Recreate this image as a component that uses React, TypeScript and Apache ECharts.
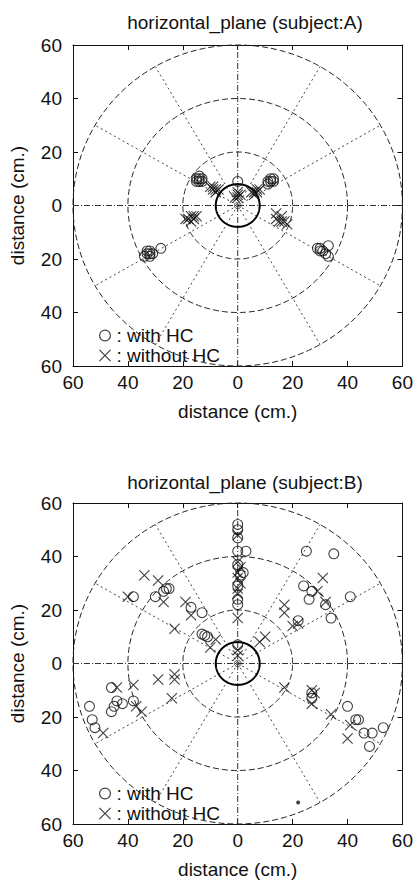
import React, { useEffect, useRef } from "react";
import * as echarts from "echarts";

// ---------- data (cm; x: left negative / right positive, y: front positive / back negative) ----------
const TICK_MIN = -60;
const TICK_MAX = 60;
const TICK_STEP = 20;

const TITLES = ["horizontal_plane (subject:A)", "horizontal_plane (subject:B)"];
const AXIS_NAME = "distance (cm.)";
const SERIES_NAMES = ["with HC", "without HC"];

const A_WITH_HC: number[][] = [
  [-15, 10], [-14, 9], [-13, 10], [-14, 11], [-15, 9], [-13, 9], [-14, 10],
  [0, 9],
  [11, 8], [12, 9], [13, 10], [12, 10], [11, 9], [13, 9],
  [-33, -18], [-32, -19], [-33, -17], [-32, -17], [-31, -18], [-28, -16], [-34, -19], [-32, -18],
  [29, -16], [30, -16], [31, -17], [33, -15], [32, -18], [33, -19], [30, -17],
];
const A_WITHOUT_HC: number[][] = [
  [-10, 7], [-9, 7], [-8, 6], [-7, 6], [-8, 5], [-9, 6],
  [0, 3], [0, 4], [0, 5], [1, 4], [-1, 3],
  [5, 5], [6, 5], [7, 6], [8, 6], [6, 4], [7, 5],
  [-18, -5], [-17, -4], [-16, -5], [-17, -6], [-15, -4], [-19, -5], [-16, -4],
  [14, -3], [16, -4], [15, -6], [17, -6], [18, -7], [14, -5], [16, -6],
];
const B_WITH_HC: number[][] = [
  [0, 52], [0, 50], [0, 47], [0, 42], [3, 42], [0, 37], [2, 34], [1, 33], [0, 29], [0, 24], [0, 22], [0, 7],
  [-38, 25], [-30, 25], [-27, 27], [-26, 28], [-25, 28], [-17, 21], [-13, 19], [-13, 11], [-12, 10.5], [-11, 10],
  [25, 42], [35, 41], [24, 29], [26, 24], [27, 27], [32, 22], [34, 17], [41, 25], [22, 16],
  [-54, -16], [-53, -21], [-52, -24], [-46, -9], [-44, -14], [-45, -16], [-46, -18], [-42, -15], [-38, -14],
  [27, -11], [27, -13], [40, -16], [43, -21], [44, -21], [46, -26], [49, -26], [53, -24], [48, -31],
];
const B_WITHOUT_HC: number[][] = [
  [0, 48], [0, 38], [1, 36], [0, 34], [0, 32], [1, 30], [0, 28], [0, 26], [0, 17], [0, 5], [0, 3],
  [-34, 33], [-29, 31], [-40, 25], [-27, 23], [-19, 23], [-17, 18], [-23, 13], [-8, 9], [-10, 6],
  [31, 32], [29, 27], [32, 23], [17, 22], [17, 19], [22, 15], [20, 14], [10, 10], [8, 8],
  [-49, -26], [-44, -9], [-38, -8], [-37, -16], [-35, -18], [-29, -6], [-23, -6], [-23, -4], [-24, -13],
  [17, -9], [27, -10], [28, -11], [27, -15], [34, -19], [41, -23], [40, -28],
];
const B_DOT: number[][] = [[22, -52]];

// polar guide geometry (cm / degrees)
const RING_RADII = [20, 40, 60];
const HEAD_RADIUS = 8;
const CENTER_MARK_RADIUS = 1.2;
const SPOKE_ANGLES = [30, 60, 120, 150, 210, 240, 300, 330];
const SPOKE_LENGTH = 60;

// ---------- styling ----------
const FONT = '"Liberation Sans", Arial, Helvetica, sans-serif';
const FONT_SIZE = 19;
const INK = "#111";
const CIRCLE_SYMBOL =
  "path://M50,0A50,50,0,1,1,50,100A50,50,0,1,1,50,0ZM50,10A40,40,0,1,0,50,90A40,40,0,1,0,50,10Z";
const CROSS_SYMBOL =
  "path://M0,7L7,0L50,43L93,0L100,7L57,50L100,93L93,100L50,57L7,100L0,93L43,50Z";

function guideRender(_params: any, api: any) {
  const children: any[] = [];
  const circle = (r: number, style: any) => {
    const pts: number[][] = [];
    for (let i = 0; i <= 240; i++) {
      const t = (i * 2 * Math.PI) / 240;
      pts.push(api.coord([r * Math.cos(t), r * Math.sin(t)]));
    }
    children.push({ type: "polyline", shape: { points: pts }, style: { ...style, fill: "none" } });
  };
  const seg = (a: number[], b: number[], style: any) => {
    const p = api.coord(a);
    const q = api.coord(b);
    children.push({ type: "line", shape: { x1: p[0], y1: p[1], x2: q[0], y2: q[1] }, style });
  };
  SPOKE_ANGLES.forEach((deg) => {
    const t = (deg * Math.PI) / 180;
    seg([0, 0], [SPOKE_LENGTH * Math.cos(t), SPOKE_LENGTH * Math.sin(t)], {
      stroke: "#444",
      lineWidth: 1,
      lineDash: [2, 3],
    });
  });
  seg([TICK_MIN, 0], [TICK_MAX, 0], { stroke: "#333", lineWidth: 1, lineDash: [6, 2, 1, 2] });
  seg([0, TICK_MIN], [0, TICK_MAX], { stroke: "#333", lineWidth: 1, lineDash: [6, 2, 1, 2] });
  RING_RADII.forEach((r) => circle(r, { stroke: "#222", lineWidth: 1, lineDash: [6, 3] }));
  circle(HEAD_RADIUS, { stroke: "#000", lineWidth: 2 });
  circle(CENTER_MARK_RADIUS, { stroke: "#333", lineWidth: 1 });
  return { type: "group", children };
}

function makeAxes(gridIndex: number, dim: "x" | "y") {
  const common = {
    type: "value",
    gridIndex,
    min: TICK_MIN,
    max: TICK_MAX,
    interval: TICK_STEP,
    splitLine: { show: false },
    axisLine: { show: true, onZero: false, lineStyle: { color: "#111", width: 1 } },
    axisTick: { show: true, inside: true, length: 5, lineStyle: { color: "#111" } },
  };
  const main = {
    ...common,
    position: dim === "x" ? "bottom" : "left",
    axisLabel: {
      show: true,
      fontFamily: FONT,
      fontSize: FONT_SIZE,
      color: INK,
      margin: dim === "x" ? 7 : 11,
      showMinLabel: true,
      showMaxLabel: true,
      formatter: (v: number) => String(Math.abs(v)),
    },
    name: AXIS_NAME,
    nameLocation: "middle",
    nameGap: dim === "x" ? 36 : 46,
    nameTextStyle: { fontFamily: FONT, fontSize: FONT_SIZE, color: INK },
  };
  const mirror = {
    ...common,
    position: dim === "x" ? "top" : "right",
    axisLabel: { show: false },
  };
  return [main, mirror];
}

function scatter(name: string, data: number[][], axisIndex: number, symbol: string, size: number) {
  return {
    type: "scatter",
    name,
    data,
    xAxisIndex: axisIndex,
    yAxisIndex: axisIndex,
    symbol,
    symbolSize: size,
    itemStyle: { color: "#111" },
    z: 3,
  };
}

function legendFor(top: number) {
  return {
    left: 94,
    top,
    orient: "vertical",
    itemWidth: 13,
    itemHeight: 12,
    itemGap: 1,
    selectedMode: false,
    data: [
      { name: SERIES_NAMES[0], icon: CIRCLE_SYMBOL },
      { name: SERIES_NAMES[1], icon: CROSS_SYMBOL },
    ],
    formatter: (n: string) => ": " + n,
    textStyle: { fontFamily: FONT, fontSize: FONT_SIZE, color: INK, lineHeight: 18 },
  };
}

export default function App() {
  const ref = useRef<HTMLDivElement>(null);
  useEffect(() => {
    if (!ref.current) return;
    const chart = echarts.init(ref.current, undefined, { renderer: "svg" });
    const [ax0, ax0m] = makeAxes(0, "x");
    const [ax1, ax1m] = makeAxes(1, "x");
    const [ay0, ay0m] = makeAxes(0, "y");
    const [ay1, ay1m] = makeAxes(1, "y");
    const titleStyle = { fontFamily: FONT, fontSize: FONT_SIZE, fontWeight: "normal", color: INK };
    chart.setOption({
      animation: false,
      backgroundColor: "#fff",
      title: [
        { text: TITLES[0], left: 240, top: 8, textAlign: "center", textStyle: titleStyle },
        { text: TITLES[1], left: 240, top: 468, textAlign: "center", textStyle: titleStyle },
      ],
      grid: [
        { left: 72, top: 45, width: 333, height: 321 },
        { left: 72, top: 503, width: 333, height: 321 },
      ],
      xAxis: [ax0, ax1, ax0m, ax1m],
      yAxis: [ay0, ay1, ay0m, ay1m],
      legend: [legendFor(321), legendFor(779)],
      series: [
        {
          type: "custom",
          xAxisIndex: 0,
          yAxisIndex: 0,
          data: [[0, 0]],
          renderItem: guideRender,
          silent: true,
          clip: false,
          z: 1,
        },
        {
          type: "custom",
          xAxisIndex: 1,
          yAxisIndex: 1,
          data: [[0, 0]],
          renderItem: guideRender,
          silent: true,
          clip: false,
          z: 1,
        },
        scatter(SERIES_NAMES[0], A_WITH_HC, 0, CIRCLE_SYMBOL, 11),
        scatter(SERIES_NAMES[1], A_WITHOUT_HC, 0, CROSS_SYMBOL, 11),
        scatter(SERIES_NAMES[0], B_WITH_HC, 1, CIRCLE_SYMBOL, 11),
        scatter(SERIES_NAMES[1], B_WITHOUT_HC, 1, CROSS_SYMBOL, 11),
        {
          type: "scatter",
          name: "dot",
          data: B_DOT,
          xAxisIndex: 1,
          yAxisIndex: 1,
          symbol: "circle",
          symbolSize: 4,
          itemStyle: { color: "#111" },
          z: 3,
        },
      ],
    });
    return () => chart.dispose();
  }, []);
  return (
    <div
      ref={ref}
      style={{ position: "absolute", left: 0, top: 0, width: 416, height: 880, background: "#fff" }}
    />
  );
}
